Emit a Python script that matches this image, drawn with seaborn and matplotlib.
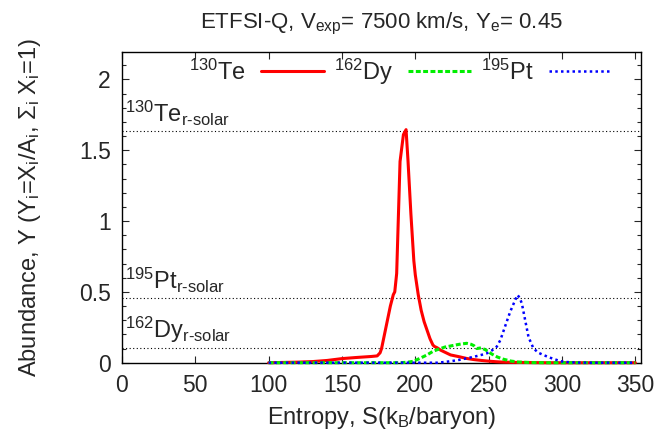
import numpy as np
import pandas as pd
import matplotlib
matplotlib.use("Agg")
import matplotlib.pyplot as plt
import seaborn as sns

# ---- data ----
te_s = [100, 110, 120, 130, 140, 150, 160, 170, 174, 176, 177, 179, 181, 183, 185, 186,
        187.3, 189.6, 191.9, 193.7, 195, 197, 199, 200, 202, 204, 206, 208, 210, 212, 213,
        215, 217, 220, 224, 230, 235, 240, 245, 250, 255, 260, 270, 280, 290, 350]
te_y = [0, 0.002, 0.004, 0.008, 0.016, 0.029, 0.037, 0.044, 0.048, 0.07, 0.10, 0.20, 0.30,
        0.40, 0.48, 0.50, 0.63, 1.42, 1.61, 1.645, 1.43, 1.05, 0.72, 0.62, 0.48, 0.37, 0.29,
        0.23, 0.17, 0.125, 0.115, 0.105, 0.09, 0.075, 0.055, 0.042, 0.03, 0.022, 0.016,
        0.011, 0.007, 0.004, 0.002, 0.001, 0, 0]

dy_s = [100, 190, 195, 198.7, 203, 208, 212, 215, 220, 225, 230, 235, 238, 240, 242, 245,
        248, 252, 256, 260, 265, 270, 280, 290, 350]
dy_y = [0, 0, 0.004, 0.01, 0.03, 0.055, 0.08, 0.092, 0.11, 0.12, 0.13, 0.137, 0.13, 0.12,
        0.10, 0.105, 0.09, 0.062, 0.04, 0.025, 0.012, 0.005, 0.001, 0, 0]

pt_s = [100, 215, 220, 225, 230, 235, 240, 245, 248.7, 252, 255.5, 258, 260, 262, 264.7,
        268, 269.7, 271, 272.6, 274.9, 277.2, 280.6, 284, 287.4, 292, 296.5, 301, 310, 320, 350]
pt_y = [0, 0, 0.005, 0.012, 0.02, 0.031, 0.042, 0.055, 0.066, 0.085, 0.113, 0.16, 0.22,
        0.28, 0.36, 0.44, 0.478, 0.46, 0.42, 0.30, 0.18, 0.10, 0.07, 0.054, 0.035, 0.019,
        0.006, 0.001, 0, 0]

series_labels = ["$^{130}$Te", "$^{162}$Dy", "$^{195}$Pt"]
solar_labels = ["$^{130}$Te$_{\\text{r-solar}}$", "$^{195}$Pt$_{\\text{r-solar}}$",
                "$^{162}$Dy$_{\\text{r-solar}}$"]
solar_values = [1.633, 0.459, 0.104]

title = "ETFSI-Q, V$_{exp}$= 7500 km/s, Y$_e$= 0.45"
xlabel = "Entropy, S(k$_B$/baryon)"
ylabel = "Abundance, Y (Y$_i$=X$_i$/A$_i$, $\\Sigma_i$ X$_i$=1)"
xticks = [0, 50, 100, 150, 200, 250, 300, 350]
yticks = [0, 0.5, 1, 1.5, 2]
ytick_labels = ["0", "0.5", "1", "1.5", "2"]

# ---- style ----
sns.set_style("ticks")
plt.rcParams["font.family"] = ["Liberation Sans", "DejaVu Sans"]
plt.rcParams["mathtext.fontset"] = "custom"
plt.rcParams["mathtext.rm"] = "Liberation Sans"
plt.rcParams["mathtext.it"] = "Liberation Sans"
plt.rcParams["mathtext.sf"] = "Liberation Sans"
plt.rcParams["mathtext.default"] = "regular"

fig = plt.figure(figsize=(6.59, 4.37), dpi=100)
ax = fig.add_axes([0.185, 0.170, 0.788, 0.710])

df_te = pd.DataFrame({"S": te_s, "Y": te_y})
df_dy = pd.DataFrame({"S": dy_s, "Y": dy_y})
df_pt = pd.DataFrame({"S": pt_s, "Y": pt_y})

sns.lineplot(data=df_te, x="S", y="Y", ax=ax, color="#ff0000", lw=2.2,
             sort=False, estimator=None, label=series_labels[0], zorder=3)
sns.lineplot(data=df_dy, x="S", y="Y", ax=ax, color="#00ee00", lw=2.2,
             linestyle=(0, (1.6, 0.8)), sort=False, estimator=None,
             label=series_labels[1], zorder=3)
sns.lineplot(data=df_pt, x="S", y="Y", ax=ax, color="#0000ff", lw=1.8,
             linestyle=(0, (1, 1.3)), sort=False, estimator=None,
             label=series_labels[2], zorder=3)
for ln in ax.lines:
    ln.set_clip_on(False)

for lab, v in zip(solar_labels, solar_values):
    ax.axhline(v, color="black", lw=0.8, ls=(0, (1, 2.2)), zorder=2)
    ax.text(2, v + 0.022, lab, fontsize=17, ha="left", va="bottom")

ax.set_xlim(0, 354)
ax.set_ylim(0, 2.19)
ax.set_xticks(xticks)
ax.set_yticks(yticks)
ax.set_yticklabels(ytick_labels)
ax.set_yticks(np.arange(0, 2.19, 0.1), minor=True)
ax.tick_params(axis="both", which="both", direction="in", top=True, right=True,
               labelsize=16.5, width=0.8)
ax.tick_params(axis="x", which="major", length=5, pad=8)
ax.tick_params(axis="y", which="major", length=5, pad=8)
ax.tick_params(axis="y", which="minor", length=3)
for sp in ax.spines.values():
    sp.set_linewidth(1.0)
    sp.set_color("black")

ax.set_title(title, fontsize=16, pad=17)
ax.set_xlabel(xlabel, fontsize=17, labelpad=6)
ax.set_ylabel(ylabel, fontsize=17, labelpad=26)

leg = ax.legend(loc="center", bbox_to_anchor=(0.536, 0.938), ncol=3, frameon=False,
                markerfirst=False, fontsize=17, handlelength=2.67, columnspacing=0.42,
                handletextpad=0.64, borderaxespad=0, borderpad=0)

fig.savefig("out.png", dpi=100)
